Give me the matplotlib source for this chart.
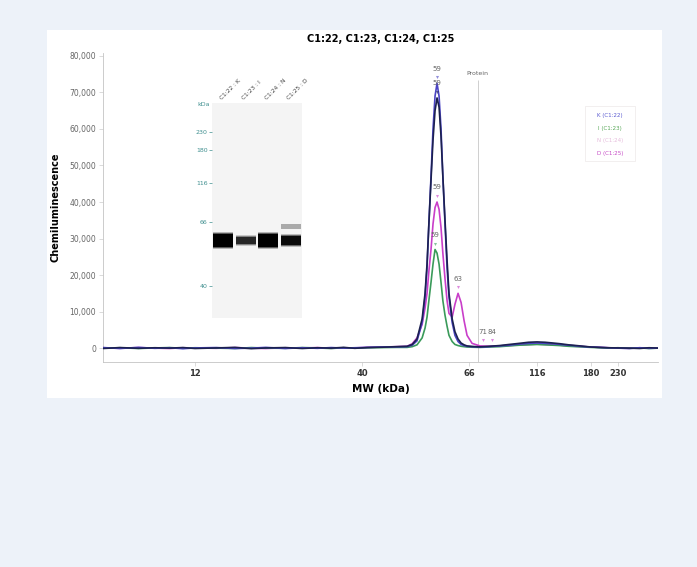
import numpy as np
import matplotlib
matplotlib.use('Agg')
import matplotlib.pyplot as plt
from matplotlib.patches import Rectangle

# ---- data ----
mw = [6.2, 7, 8, 9, 10, 11, 12, 14, 16, 18, 20, 23, 26, 29, 32, 35, 38, 41, 44, 47,
      49.4, 50.6, 51.75, 53.0, 53.73, 54.23, 54.7, 55.25, 55.77, 56.3, 56.83, 57.37,
      57.9, 58.4, 58.99, 59.56, 60.1, 61.0,
      61.8, 62.7, 63.6, 64.5, 65.4, 67.7, 72.3,
      78, 85, 92, 100, 108, 116, 124, 132, 140, 150, 160, 170, 180, 195, 210, 230,
      255, 280, 305, 331]

sig_K = [150, -100, 200, -50, 100, -150, 50, 150, -100, 0, 200, -100, 100, -50, 150, 0, 100, 200, 300, 350,
         400, 800, 2000, 7000, 14000, 22000, 34000, 47000, 60000, 69000, 72500, 69000,
         60000, 47000, 34000, 22000, 14000, 7000,
         3500, 1800, 1000, 700, 500, 400, 300,
         400, 600, 800, 1100, 1300, 1400, 1300, 1200, 1000, 800, 600, 400, 300, 200, 100, 0,
         -100, 100, -50, 0]
sig_I = [0, 100, -100, 50, 150, -50, 100, 0, -100, 150, 0, -50, 150, 50, -100, 100, 0, 100, 150, 200,
         200, 400, 900, 2800, 5500, 8500, 13000, 18000, 23000, 27000, 26000, 23000,
         18000, 13000, 9000, 6000, 3500, 1800,
         1000, 700, 500, 400, 300, 250, 200,
         300, 400, 600, 800, 900, 1000, 900, 800, 700, 500, 400, 300, 200, 100, 0,
         100, -50, 50, -100, 0]
sig_N = [-100, 150, -50, 100, 0, 150, -100, 50, 200, -150, 50, 150, -100, 100, 0, 200, -50, 150, 250, 400,
         500, 1000, 2500, 8000, 15000, 23000, 34000, 46000, 57000, 65000, 68500, 66000,
         58000, 47000, 35000, 24000, 15000, 8000,
         4500, 2500, 1400, 900, 600, 450, 350,
         500, 700, 1000, 1300, 1600, 1700, 1600, 1400, 1200, 900, 700, 500, 300, 200, 100, 50,
         0, -100, 100, 0]
sig_D = [100, -50, 150, 0, -100, 100, 50, -50, 150, 0, -100, 100, 0, 150, -50, 100, 50, 200, 300, 400,
         500, 1200, 2800, 6500, 11000, 15000, 21000, 27000, 34000, 38500, 40000, 38000,
         33000, 26000, 19000, 13000, 9500, 8500,
         12000, 15000, 12500, 7500, 3500, 1300, 600,
         500, 600, 700, 900, 1000, 1100, 1000, 900, 800, 600, 500, 400, 300, 200, 100, 0,
         -50, 100, 0, 50]

series_names = ['K (C1:22)', 'I (C1:23)', 'N (C1:24)', 'D (C1:25)']

# peak labels: (MW, height, label, series)
peak_mw = [56.83, 56.83, 56.3, 56.83, 62.7, 74, 80]
peak_h = [72500, 68500, 27000, 40000, 15000, 500, 500]
peak_txt = ['59', '59', '59', '59', '63', '71', '84']
peak_series = ['K', 'N', 'I', 'D', 'D', 'D', 'D']

protein_mw = 71
x_ticks = [12, 40, 66, 116, 180, 230]
y_ticks = [0, 10000, 20000, 30000, 40000, 50000, 60000, 70000, 80000]

# gel inset
lane_labels = ['C1:22 : K', 'C1:23 : I', 'C1:24 : N', 'C1:25 : D']
gel_ticks = [230, 180, 116, 66, 40]
band_mw = [57, 57, 57, 57]
band_strength = [1.0, 0.7, 1.0, 0.9]
band_height = [13, 7, 13, 9]
upper_band_mw = 63.5
upper_band_strength = [0, 0, 0, 0.3]

colors = {'K': '#4a44c4', 'I': '#3a9a5a', 'N': '#1c2150', 'D': '#c93ec9'}
legend_colors = ['#5a5ad0', '#58a858', '#e6bcdc', '#c548c5']

# ---- axis calibration (MW -> position, piecewise in log MW) ----
KNOT_MW = np.log([1, 6.2, 12, 40, 66, 116, 180, 230, 331, 2000])
KNOT_POS = np.array([-151, 103, 195, 362, 469, 537, 591, 618, 658, 856], float)


def fwd(x):
    x = np.asarray(x, float)
    return np.interp(np.log(np.clip(x, 1e-6, None)), KNOT_MW, KNOT_POS)


def inv(p):
    return np.exp(np.interp(np.asarray(p, float), KNOT_POS, KNOT_MW))


GEL_MW = np.log([31.2, 40, 66, 116, 180, 230, 342])
GEL_POS = np.array([318, 286, 222, 183, 150, 132, 103], float)


def gel_pos(m):
    return np.interp(np.log(m), GEL_MW, GEL_POS)


W, H = 697, 567
fig = plt.figure(figsize=(W / 100, H / 100), dpi=100)
fig.patch.set_facecolor('#edf2f9')
fig.patches.append(Rectangle((47 / W, 1 - 398 / H), 615 / W, 368 / H,
                             transform=fig.transFigure, facecolor='white',
                             edgecolor='none', zorder=-10))
# faint legend box
fig.patches.append(Rectangle((585 / W, 1 - 161 / H), 50 / W, 55 / H,
                             transform=fig.transFigure, facecolor='none',
                             edgecolor='#f0ecec', lw=0.6, zorder=-5))

ax = fig.add_axes([103 / W, 1 - 362 / H, 555 / W, 309 / H])
ax.set_facecolor('none')
ax.set_xscale('function', functions=(fwd, inv))
ax.set_xlim(6.2, 331)
ax.set_ylim(-3800, 80800)

sigs = {'K': sig_K, 'I': sig_I, 'N': sig_N, 'D': sig_D}
for key in ['D', 'I', 'K', 'N']:
    ax.plot(mw, sigs[key], color=colors[key], lw=1.2, zorder=3)

# protein marker line
ax.vlines(protein_mw, -3800, 73400, color='#c8c8c8', lw=0.6, zorder=1)
ax.text(protein_mw, 75300, 'Protein', fontsize=4.5, color='#666666',
        ha='center', va='center')

# peak annotations
for m, h, t, s in zip(peak_mw, peak_h, peak_txt, peak_series):
    ax.plot(m, h + 1600, marker='v', ms=2.2, color=colors[s], alpha=0.6,
            mec='none', zorder=4)
    ax.text(m, h + 4000, t, fontsize=5, color='#666666', ha='center',
            va='center', zorder=4)

ax.set_xticks(x_ticks)
ax.set_xticklabels([str(v) for v in x_ticks], fontsize=6, fontweight='bold',
                   color='#333333')
ax.xaxis.set_minor_locator(matplotlib.ticker.NullLocator())
ax.set_yticks(y_ticks)
ax.set_yticklabels(['{:,}'.format(v) for v in y_ticks], fontsize=5.5,
                   color='#666666')
ax.tick_params(axis='both', length=3, width=0.5, color='#cccccc', pad=2)
for sp in ['top', 'right']:
    ax.spines[sp].set_visible(False)
for sp in ['left', 'bottom']:
    ax.spines[sp].set_color('#c4c4c4')
    ax.spines[sp].set_linewidth(0.6)

ax.set_title('C1:22, C1:23, C1:24, C1:25', fontsize=7, fontweight='bold', pad=8)
ax.set_xlabel('MW (kDa)', fontsize=7.5, fontweight='bold', labelpad=4)
ax.set_ylabel('Chemiluminescence', fontsize=7, fontweight='bold', labelpad=6)

# legend as coloured text
for i, (name, c) in enumerate(zip(series_names, legend_colors)):
    fig.text(610 / W, 1 - (116 + 12.5 * i) / H, name, fontsize=4, color=c,
             ha='center', va='center')

# ---- gel inset ----
gx = fig.add_axes([212 / W, 1 - 318 / H, 90 / W, 215 / H])
gx.set_facecolor('#f4f4f4')
gx.set_xlim(0, 4)
gx.set_ylim(318, 103)
for sp in gx.spines.values():
    sp.set_visible(False)
for i in range(4):
    cy = gel_pos(band_mw[i])
    bh = band_height[i]
    a = band_strength[i]
    for grow, al in [(4, 0.25), (2, 0.5), (0, 1.0)]:
        gx.add_patch(Rectangle((i + 0.05, cy - (bh + grow) / 2), 0.9, bh + grow,
                               facecolor='black', alpha=a * al, edgecolor='none'))
    if upper_band_strength[i] > 0:
        uy = gel_pos(upper_band_mw)
        gx.add_patch(Rectangle((i + 0.05, uy - 2.5), 0.9, 5, facecolor='black',
                               alpha=upper_band_strength[i], edgecolor='none'))
    gx.text(i + 0.3, 101, lane_labels[i], fontsize=4.2, color='#444444',
            rotation=45, ha='left', va='bottom')
gx.set_xticks([])
gx.set_yticks(gel_pos(gel_ticks))
gx.set_yticklabels([str(v) for v in gel_ticks], fontsize=4.5, color='#3f8f8f')
gx.tick_params(axis='y', length=2, width=0.5, color='#3f8f8f', pad=1)
gx.text(-0.1, 104, 'kDa', fontsize=4.5, color='#3f8f8f', ha='right', va='center')

fig.savefig('out.png', dpi=100, facecolor=fig.get_facecolor())
